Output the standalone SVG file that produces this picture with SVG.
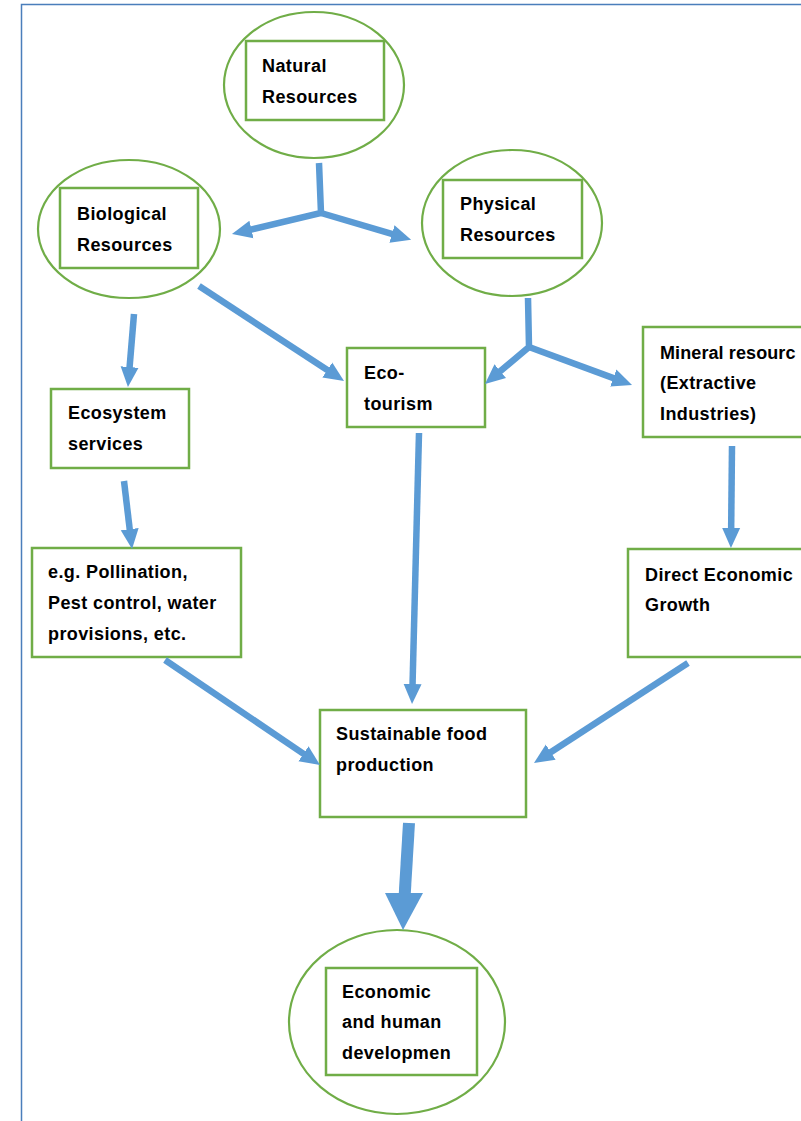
<svg xmlns="http://www.w3.org/2000/svg" width="801" height="1121" viewBox="0 0 801 1121">
<style>
.frame{fill:none;stroke:#4a7ebb;stroke-width:1.5}
.oval{fill:none;stroke:#70ad47;stroke-width:2.2}
.box{fill:#ffffff;stroke:#70ad47;stroke-width:2.5}
.lbl{font-family:"Liberation Sans",Arial,sans-serif;font-weight:bold;font-size:18px;letter-spacing:0.4px;fill:#000000}
.arr{fill:none;stroke:#5b9bd5;stroke-width:6.5;stroke-linejoin:miter}
</style>
<defs>
<marker id="ah" markerUnits="userSpaceOnUse" viewBox="0 0 20 20" markerWidth="20" markerHeight="20" refX="6" refY="10" orient="auto">
<path d="M0,1 L20,10 L0,19 z" fill="#5b9bd5"/>
</marker>
</defs>
<rect width="801" height="1121" fill="#ffffff"/>
<path class="frame" d="M21.5,1121 L21.5,4.5 L801,4.5"/>

<g id="natural">
<ellipse class="oval" cx="314" cy="85" rx="90" ry="73"/>
<rect class="box" x="246" y="41" width="138" height="79"/>
<text class="lbl" x="262" y="72">Natural</text>
<text class="lbl" x="262" y="103">Resources</text>
</g>
<g id="biological">
<ellipse class="oval" cx="129" cy="229" rx="91" ry="69"/>
<rect class="box" x="60" y="188" width="138" height="80"/>
<text class="lbl" x="77" y="220">Biological</text>
<text class="lbl" x="77" y="251">Resources</text>
</g>
<g id="physical">
<ellipse class="oval" cx="512" cy="223" rx="90" ry="73"/>
<rect class="box" x="443" y="180" width="139" height="78"/>
<text class="lbl" x="460" y="210">Physical</text>
<text class="lbl" x="460" y="241">Resources</text>
</g>
<g id="ecotourism">
<rect class="box" x="347" y="348" width="138" height="79"/>
<text class="lbl" x="364" y="379">Eco-</text>
<text class="lbl" x="364" y="410">tourism</text>
</g>
<g id="mineral">
<rect class="box" x="643" y="327" width="170" height="110"/>
<text class="lbl" x="660" y="359" style="letter-spacing:0.1px">Mineral resourc</text>
<text class="lbl" x="660" y="389">(Extractive</text>
<text class="lbl" x="660" y="420">Industries)</text>
</g>
<g id="ecosystem">
<rect class="box" x="51" y="389" width="138" height="79"/>
<text class="lbl" x="68" y="419">Ecosystem</text>
<text class="lbl" x="68" y="450">services</text>
</g>
<g id="examples">
<rect class="box" x="32" y="548" width="209" height="109"/>
<text class="lbl" x="48" y="578">e.g. Pollination,</text>
<text class="lbl" x="48" y="609">Pest control, water</text>
<text class="lbl" x="48" y="640">provisions, etc.</text>
</g>
<g id="direct">
<rect class="box" x="628" y="549" width="185" height="108"/>
<text class="lbl" x="645" y="581">Direct Economic</text>
<text class="lbl" x="645" y="611">Growth</text>
</g>
<g id="sustainable">
<rect class="box" x="320" y="710" width="206" height="107"/>
<text class="lbl" x="336" y="740">Sustainable food</text>
<text class="lbl" x="336" y="771">production</text>
</g>
<g id="economic">
<ellipse class="oval" cx="397" cy="1022" rx="108" ry="92"/>
<rect class="box" x="326" y="968" width="151" height="107"/>
<text class="lbl" x="342" y="998">Economic</text>
<text class="lbl" x="342" y="1028">and human</text>
<text class="lbl" x="342" y="1059">developmen</text>
</g>

<g id="connectors">
<path class="arr" d="M319,163 L321,213 L245.6,230.8" marker-end="url(#ah)"/>
<path class="arr" d="M321,213 L397.7,235.7" marker-end="url(#ah)"/>
<path class="arr" d="M199,286 L332.3,373.3" marker-end="url(#ah)"/>
<path class="arr" d="M134,314 L129.1,373" marker-end="url(#ah)"/>
<path class="arr" d="M124,481 L130.4,535.1" marker-end="url(#ah)"/>
<path class="arr" d="M528,298 L529,347 L495.7,375" marker-end="url(#ah)"/>
<path class="arr" d="M529,347 L618.9,380.1" marker-end="url(#ah)"/>
<path class="arr" d="M419,433 L412.4,690" marker-end="url(#ah)"/>
<path class="arr" d="M732,446 L731.1,534" marker-end="url(#ah)"/>
<path class="arr" d="M165,660 L308.4,757.1" marker-end="url(#ah)"/>
<path class="arr" d="M688,663 L545.7,755.4" marker-end="url(#ah)"/>
<path d="M409,823 L404.5,898" fill="none" stroke="#5b9bd5" stroke-width="12"/>
<path d="M385,893 L423,893 L403,930 z" fill="#5b9bd5"/>
</g>
</svg>
